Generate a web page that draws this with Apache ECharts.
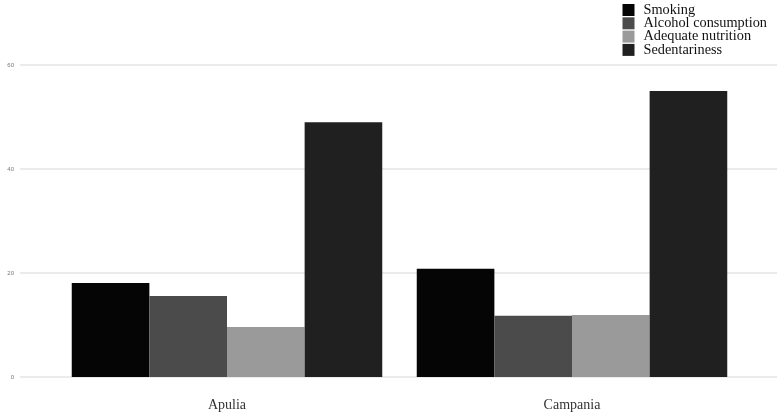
<!DOCTYPE html>
<html>
<head>
<meta charset="utf-8">
<script src="https://cdn.jsdelivr.net/npm/echarts@6/dist/echarts.min.js"></script>
<style>
  html, body { margin: 0; padding: 0; background: #ffffff; }
  #chart { width: 777px; height: 420px; }
</style>
</head>
<body>
<div id="chart"></div>
<script>
// Regions on the x axis
const regions = ['Apulia', 'Campania'];

// Share of respondents per behaviour (%)
const smoking = [18.1, 20.8];
const alcohol = [15.6, 11.8];
const nutrition = [9.6, 11.9];
const sedentariness = [49.0, 55.0];

// Value axis ticks
const yTicks = [0, 20, 40, 60];

const seriesNames = ['Smoking', 'Alcohol consumption', 'Adequate nutrition', 'Sedentariness'];
const seriesValues = [smoking, alcohol, nutrition, sedentariness];
const seriesColors = ['#050505', '#4b4b4b', '#9a9a9a', '#202020'];

const serif = '"Liberation Serif", "DejaVu Serif", serif';

const chart = echarts.init(document.getElementById('chart'), null, { renderer: 'canvas' });

chart.setOption({
  backgroundColor: '#ffffff',
  animation: false,
  legend: {
    data: seriesNames,
    orient: 'vertical',
    right: 10,
    top: 3,
    padding: 0,
    icon: 'rect',
    itemWidth: 12,
    itemHeight: 12,
    itemGap: -0.7,
    textStyle: {
      fontFamily: serif,
      fontSize: 14.3,
      lineHeight: 12,
      color: '#111',
      padding: [0, 0, 0, 4]
    }
  },
  grid: [
    // bar panel
    { left: 54.5, right: 32.5, top: 65, bottom: 43 },
    // full-width panel carrying the horizontal gridlines and y labels
    { left: 20, right: 0, top: 65, bottom: 43 }
  ],
  xAxis: [
    {
      type: 'category',
      gridIndex: 0,
      data: regions,
      axisLine: { show: false },
      axisTick: { show: false },
      splitLine: { show: false },
      axisLabel: { fontFamily: serif, fontSize: 14, color: '#333', margin: 21 }
    },
    {
      type: 'value',
      gridIndex: 1,
      show: false,
      min: 0,
      max: 1
    }
  ],
  yAxis: [
    {
      type: 'value',
      gridIndex: 0,
      min: 0,
      max: 60,
      interval: 20,
      show: false
    },
    {
      type: 'value',
      gridIndex: 1,
      min: yTicks[0],
      max: yTicks[yTicks.length - 1],
      interval: yTicks[1] - yTicks[0],
      axisLine: { show: false },
      axisTick: { show: false },
      axisLabel: { fontSize: 6, color: '#777', margin: 6 },
      splitLine: { show: true, lineStyle: { color: '#ebebeb', width: 2 } }
    }
  ],
  series: seriesNames.map((name, i) => ({
    name: name,
    type: 'bar',
    xAxisIndex: 0,
    yAxisIndex: 0,
    data: seriesValues[i],
    barGap: '0%',
    barCategoryGap: '10%',
    itemStyle: { color: seriesColors[i] }
  }))
});
</script>
</body>
</html>
